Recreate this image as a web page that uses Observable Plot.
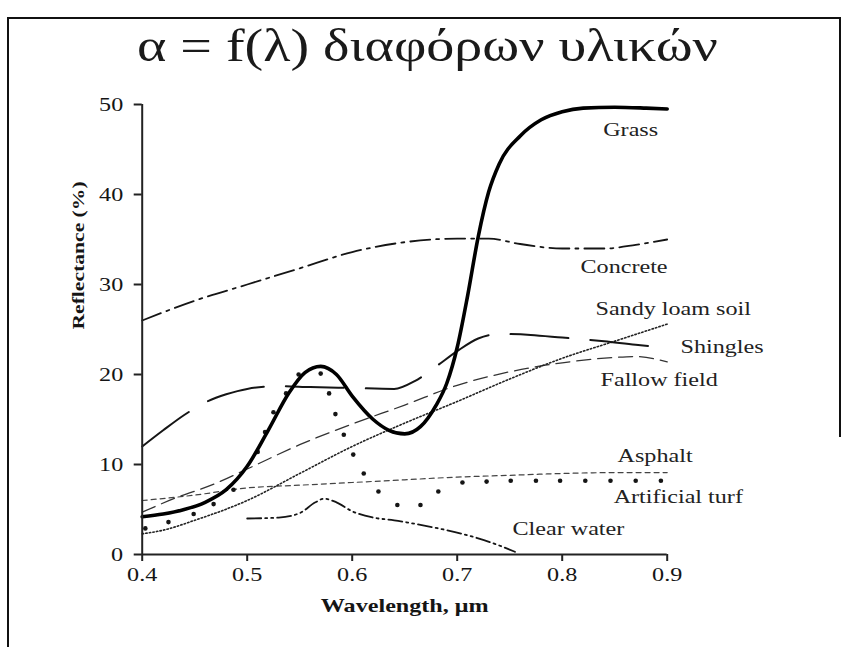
<!DOCTYPE html>
<html><head><meta charset="utf-8">
<script src="https://cdn.jsdelivr.net/npm/d3@7"></script>
<script src="https://cdn.jsdelivr.net/npm/@observablehq/plot@0.6"></script>
<style>
body{margin:0;background:#fff;}
#wrap{position:relative;width:855px;height:647px;overflow:hidden;font-family:"Liberation Serif","Times New Roman",serif;color:#1a1a1a}
#frame{position:absolute;left:7px;top:17px;width:832px;height:700px;border-left:2px solid #111;border-top:2px solid #111;}
#rframe{position:absolute;left:839px;top:17px;width:2px;height:420px;background:#111}
#title{position:absolute;left:0;top:21px;width:855px;text-align:center;font-size:46px;line-height:50px;white-space:nowrap}
#title span{display:inline-block;transform-origin:center}
#chart{position:absolute;left:0;top:0}
</style></head><body>
<div id="wrap"><div id="frame"></div><div id="rframe"></div><div id="title"><span id="tspan">α = f(λ) διαφόρων υλικών</span></div><div id="chart"></div></div>
<script>
// ---- data (wavelength µm, reflectance %) ----
const grass = [[0.40,4.2],[0.42,4.5],[0.44,5.0],[0.46,5.8],[0.48,7.2],[0.50,9.8],[0.52,13.8],[0.54,18.0],[0.555,20.2],[0.57,20.9],[0.585,20.0],[0.60,17.6],[0.62,15.0],[0.635,13.8],[0.65,13.4],[0.665,14.2],[0.68,16.6],[0.69,19.0],[0.70,23.0],[0.71,28.8],[0.72,35.3],[0.73,40.3],[0.74,43.4],[0.76,46.5],[0.78,48.3],[0.80,49.2],[0.82,49.6],[0.85,49.7],[0.88,49.6],[0.90,49.5]];
const concrete = [[0.40,26.0],[0.45,28.2],[0.50,30.0],[0.55,31.8],[0.60,33.6],[0.65,34.7],[0.70,35.1],[0.73,35.1],[0.76,34.5],[0.80,34.0],[0.84,34.0],[0.87,34.4],[0.90,35.0]];
const shingles = [[0.40,12.0],[0.42,13.8],[0.44,15.5],[0.46,16.9],[0.48,17.8],[0.50,18.4],[0.53,18.7],[0.56,18.6],[0.60,18.5],[0.64,18.4],[0.66,19.3],[0.68,20.9],[0.70,22.6],[0.72,24.0],[0.74,24.5],[0.77,24.4],[0.80,24.1],[0.84,23.7],[0.87,23.3],[0.90,23.0]];
const sandyLoam = [[0.40,2.3],[0.42,2.7],[0.45,3.8],[0.50,6.0],[0.55,9.0],[0.60,12.0],[0.65,14.6],[0.70,17.0],[0.75,19.5],[0.80,21.8],[0.85,23.7],[0.90,25.6]];
const fallow = [[0.40,4.7],[0.43,6.2],[0.47,7.9],[0.50,9.5],[0.55,12.2],[0.60,14.5],[0.65,16.6],[0.70,18.8],[0.75,20.3],[0.80,21.3],[0.85,21.9],[0.87,22.0],[0.90,21.4]];
const asphalt = [[0.40,6.0],[0.45,6.6],[0.50,7.4],[0.55,7.7],[0.60,8.0],[0.65,8.3],[0.70,8.6],[0.75,8.8],[0.80,9.0],[0.85,9.1],[0.90,9.1]];
const clearWater = [[0.50,4.0],[0.53,4.1],[0.55,4.6],[0.565,5.8],[0.573,6.2],[0.585,5.8],[0.60,4.8],[0.62,4.1],[0.64,3.8],[0.66,3.4],[0.69,2.7],[0.72,1.8],[0.74,1.0],[0.755,0.3]];
const artificialTurf = [[0.403,2.9],[0.425,3.6],[0.449,4.5],[0.468,5.6],[0.487,7.2],[0.51,11.4],[0.517,13.6],[0.525,15.8],[0.537,17.9],[0.549,20.0],[0.57,20.1],[0.578,17.9],[0.584,15.6],[0.592,13.3],[0.601,11.1],[0.611,9.0],[0.625,7.0],[0.643,5.5],[0.665,5.5],[0.682,7.0],[0.705,8.0],[0.728,8.1],[0.751,8.2],[0.775,8.2],[0.798,8.2],[0.822,8.2],[0.846,8.2],[0.87,8.2],[0.894,8.2]];
const seriesLabels = [
  {x:0.839,y:47.2,text:"Grass"},
  {x:0.8174,y:32.0,text:"Concrete"},
  {x:0.8317,y:27.3,text:"Sandy loam soil"},
  {x:0.9127,y:23.1,text:"Shingles"},
  {x:0.8365,y:19.4,text:"Fallow field"},
  {x:0.8527,y:10.9,text:"Asphalt"},
  {x:0.849,y:6.4,text:"Artificial turf"},
  {x:0.7526,y:2.8,text:"Clear water"}
];
const xTicks = [0.4,0.5,0.6,0.7,0.8,0.9];
const yTicks = [0,10,20,30,40,50];
const xLabel = "Wavelength, μm";
const yLabel = "Reflectance (%)";

const X = d => d[0], Y = d => d[1];
const ink = "#151515";
const plot = Plot.plot({
  width: 855, height: 647,
  marginLeft: 141.7, marginRight: 188.3, marginTop: 104, marginBottom: 93,
  x: {domain: [0.4, 0.9]},
  y: {domain: [0, 50]},
  style: {fontFamily: '"Liberation Serif","Times New Roman",serif', fontSize: "19px", color: ink, background: "transparent", overflow: "visible"},
  marks: [
    Plot.line(asphalt, {x: X, y: Y, curve: "monotone-x", stroke: "#444", strokeWidth: 1.2, strokeDasharray: "5,4"}),
    Plot.line(fallow, {x: X, y: Y, curve: "monotone-x", stroke: "#333", strokeWidth: 1.3, strokeDasharray: "14,7"}),
    Plot.line(sandyLoam, {x: X, y: Y, curve: "monotone-x", stroke: "#222", strokeWidth: 1.6, strokeDasharray: "1.4,2.2"}),
    Plot.line(concrete, {x: X, y: Y, curve: "monotone-x", stroke: ink, strokeWidth: 1.8, strokeDasharray: "20,6,3,6"}),
    Plot.line(shingles, {x: X, y: Y, curve: "monotone-x", stroke: ink, strokeWidth: 2, strokeDasharray: "58,22"}),
    Plot.line(clearWater, {x: X, y: Y, curve: "monotone-x", stroke: ink, strokeWidth: 1.8, strokeDasharray: "14,4,2,4,2,4"}),
    Plot.dot(artificialTurf, {x: X, y: Y, r: 2.3, fill: ink, stroke: null}),
    Plot.line(grass, {x: X, y: Y, curve: "monotone-x", stroke: "#000", strokeWidth: 3.6}),
    Plot.ruleX([0.4], {y1: 0, y2: 50, stroke: "#222", strokeWidth: 2}),
    Plot.ruleY([0], {x1: 0.4, x2: 0.9, stroke: "#222", strokeWidth: 2}),
    Plot.axisX({ticks: xTicks, tickFormat: d => d.toFixed(1), tickSize: 7, tickPadding: 6, label: null, strokeWidth: 2, stroke: "#222"}),
    Plot.axisY({ticks: yTicks, tickFormat: d => String(d), tickSize: 8, tickPadding: 11, label: null, strokeWidth: 2, stroke: "#222"}),
    Plot.text(seriesLabels, {x: "x", y: "y", text: "text", textAnchor: "start", fontSize: 19, fill: "#222"}),
    Plot.text([xLabel], {frameAnchor: "bottom", dy: 51, text: d => d, fontWeight: "bold", fontSize: 19, lineAnchor: "middle", fill: ink}),
    Plot.text([yLabel], {frameAnchor: "left", dx: -64, rotate: -90, text: d => d, fontWeight: "bold", fontSize: 17, lineAnchor: "middle", fill: ink})
  ]
});
document.getElementById("chart").appendChild(plot);
// horizontal stretch of glyphs to match the reference's wide serif lettering
const STRETCH = 1.27;
plot.querySelectorAll("text").forEach(t => {
  const L = t.getComputedTextLength();
  if (L > 0) { t.setAttribute("textLength", (L * STRETCH).toFixed(1)); t.setAttribute("lengthAdjust", "spacingAndGlyphs"); }
});
const ts = document.getElementById("tspan");
const w = ts.getBoundingClientRect().width;
ts.style.transform = `scaleX(${581 / w})`;
</script>
</body></html>
